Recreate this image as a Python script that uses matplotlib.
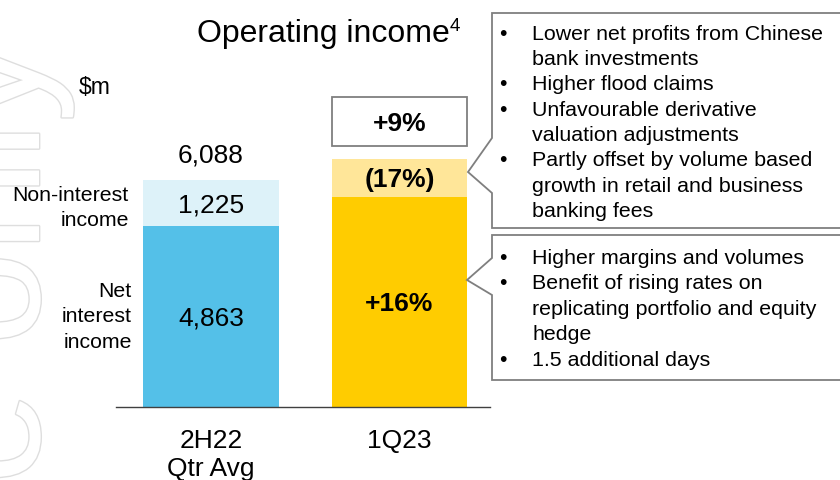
import matplotlib
matplotlib.use("Agg")
import matplotlib.pyplot as plt
import matplotlib.patheffects as pe
from matplotlib.patches import Polygon, Rectangle

# ---- data ----
categories = ["2H22\nQtr Avg", "1Q23"]
net_interest = [4863, 5641]
non_interest = [1225, 1017]
nii_labels = ["4,863", "+16%"]
non_labels = ["1,225", "(17%)"]
total_label = "6,088"
growth_label = "+9%"

top_notes = [
    ["Lower net profits from Chinese", "bank investments"],
    ["Higher flood claims"],
    ["Unfavourable derivative", "valuation adjustments"],
    ["Partly offset by volume based", "growth in retail and business", "banking fees"],
]
bottom_notes = [
    ["Higher margins and volumes"],
    ["Benefit of rising rates on", "replicating portfolio and equity", "hedge"],
    ["1.5 additional days"],
]

# ---- style ----
plt.rcParams["font.family"] = ["Liberation Sans", "DejaVu Sans"]
nii_colors = ["#54C0E8", "#FFCC00"]
non_colors = ["#DDF2F9", "#FFE699"]
box_edge = "#7F7F7F"

W, H = 840, 480


def fx(px):
    return px / W


def fy(py):
    return 1 - py / H


def text_lines(fig, lines, x, y0, step, **kw):
    # one text per line so the spacing matches the slide
    for k, line in enumerate(lines):
        fig.text(fx(x), fy(y0 + k * step), line, va="baseline", **kw)


def bullet_block(fig, notes, y0, step):
    k = 0
    for note in notes:
        fig.text(fx(499), fy(y0 + k * step), "\u2022", va="baseline", fontsize=15.4)
        for line in note:
            fig.text(fx(532), fy(y0 + k * step), line, va="baseline", fontsize=15.4)
            k += 1


fig = plt.figure(figsize=(8.4, 4.8), dpi=100)

# faint outlined watermark on the left edge
fig.text(fx(39), fy(40), "For internal use only", rotation=90,
         rotation_mode="anchor", ha="right", va="baseline", fontsize=120,
         color="white", zorder=0,
         path_effects=[pe.Stroke(linewidth=2.0, foreground="#DEDEDE"), pe.Normal()])

# ---- bars ----
ax = fig.add_axes([fx(116), fy(407), fx(490) - fx(116), fy(0) - fy(407)])
ax.patch.set_visible(False)
x = list(range(len(categories)))
bw = 0.72
totals = [a + b for a, b in zip(net_interest, non_interest)]

ax.bar(x, net_interest, width=bw, color=nii_colors, zorder=2)
ax.bar(x, non_interest, bottom=net_interest, width=bw, color=non_colors, zorder=2)

ax.set_xlim(-0.504, 1.48)
ax.set_ylim(0, 10912)

for s in ["top", "left", "right"]:
    ax.spines[s].set_visible(False)
ax.spines["bottom"].set_color("#404040")
ax.spines["bottom"].set_linewidth(1.0)
ax.set_yticks([])
ax.set_xticks(x)
ax.set_xticklabels(categories, fontsize=19)
ax.tick_params(axis="x", length=0, pad=15.7)

for i in x:
    weight = "bold" if i == 1 else "normal"
    ax.text(i, net_interest[i] / 2, nii_labels[i], ha="center",
            va="center_baseline", fontsize=19, fontweight=weight, zorder=3)
    ax.text(i, net_interest[i] + non_interest[i] / 2, non_labels[i], ha="center",
            va="center_baseline", fontsize=19, fontweight=weight, zorder=3)

# total above the first bar
ax.annotate(total_label, (0, totals[0]), xytext=(0, 17), textcoords="offset pixels",
            ha="center", va="baseline", fontsize=19)

# growth box above the second bar
gap, bh = 330, 1330
ax.add_patch(Rectangle((1 - bw / 2, totals[1] + gap), bw, bh, fill=False,
                       edgecolor=box_edge, lw=1.3, clip_on=False))
ax.text(1, totals[1] + gap + bh / 2, growth_label, ha="center",
        va="center_baseline", fontsize=19, fontweight="bold")

# ---- titles / side labels ----
fig.text(fx(197), fy(42), "Operating income", va="baseline", fontsize=23)
fig.text(fx(450), fy(31), "4", va="baseline", fontsize=13.5)
fig.text(fx(79), fy(94), "$m", va="baseline", fontsize=16.5)
text_lines(fig, ["Non-interest", "income"], 129, 201, 25.2, ha="right", fontsize=15.3)
text_lines(fig, ["Net", "interest", "income"], 132, 297, 25.4, ha="right", fontsize=15.3)

# ---- callout boxes ----
call1 = [(492, 13), (842, 13), (842, 228), (492, 228), (492, 193), (468, 172), (492, 138)]
call2 = [(492, 235), (842, 235), (842, 380), (492, 380), (492, 295), (467, 280), (492, 258)]
for pts in (call1, call2):
    fig.add_artist(Polygon([(fx(a), fy(b)) for a, b in pts], closed=True,
                           transform=fig.transFigure, facecolor="white",
                           edgecolor=box_edge, lw=1.3))

bullet_block(fig, top_notes, 39.5, 25.4)
bullet_block(fig, bottom_notes, 263.5, 25.6)

fig.savefig("out.png", dpi=100)
